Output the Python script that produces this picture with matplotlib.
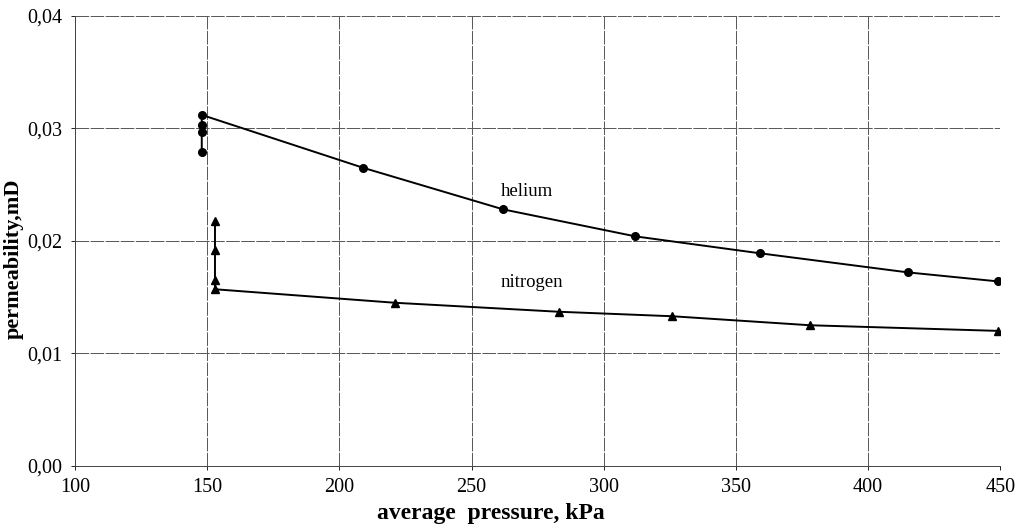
import matplotlib.pyplot as plt

plt.rcParams['font.family'] = ['Liberation Serif', 'DejaVu Serif']

# helium: low-pressure cluster first, then the curve
helium_p = [148, 148, 148, 148, 209, 262, 312, 359, 415, 449]
helium_k = [0.0279, 0.0297, 0.0303, 0.0312, 0.0265, 0.0228, 0.0204, 0.0189, 0.0172, 0.0164]

# nitrogen: cluster from top down, then the line
nitrogen_p = [153, 153, 153, 153, 221, 283, 326, 378, 449]
nitrogen_k = [0.0218, 0.0192, 0.0165, 0.0157, 0.0145, 0.0137, 0.0133, 0.0125, 0.0120]

x_ticks = [100, 150, 200, 250, 300, 350, 400, 450]
y_ticks = [0.00, 0.01, 0.02, 0.03, 0.04]
y_labels = ['0,00', '0,01', '0,02', '0,03', '0,04']

fig = plt.figure(figsize=(10.25, 5.3), dpi=100)
ax = fig.add_axes([0.073, 0.121, 0.903, 0.849])

ax.plot(helium_p, helium_k, color='black', linewidth=1.4,
        marker='o', markersize=5.5, zorder=3)
ax.plot(nitrogen_p, nitrogen_k, color='black', linewidth=1.4,
        marker='^', markersize=5.5, zorder=3)

ax.text(271, 0.0244, 'helium', fontsize=13.5, ha='center', va='center')
ax.text(273, 0.0163, 'nitrogen', fontsize=13.5, ha='center', va='center')

ax.set_xlim(100, 450)
ax.set_ylim(0, 0.04)
ax.set_xticks(x_ticks)
ax.set_yticks(y_ticks)
ax.set_yticklabels(y_labels)
ax.tick_params(labelsize=14.5, direction='out', length=3, width=0.6)
ax.tick_params(axis='x', pad=6)
ax.tick_params(axis='y', pad=6)

ax.grid(True, color='#555555', linewidth=0.7, linestyle=(0, (14, 1.5)))
for s in ['top', 'right']:
    ax.spines[s].set_visible(False)
for s in ['left', 'bottom']:
    ax.spines[s].set_color('#444444')
    ax.spines[s].set_linewidth(0.7)

fig.text(491 / 1025, 1 - 514 / 530, 'average  pressure, kPa', fontsize=17,
         fontweight='bold', ha='center', va='center')
fig.text(14 / 1025, 1 - 259 / 530, 'permeability,mD', fontsize=16,
         fontweight='bold', ha='center', va='center', rotation=90)

fig.savefig('out.png', dpi=100)
